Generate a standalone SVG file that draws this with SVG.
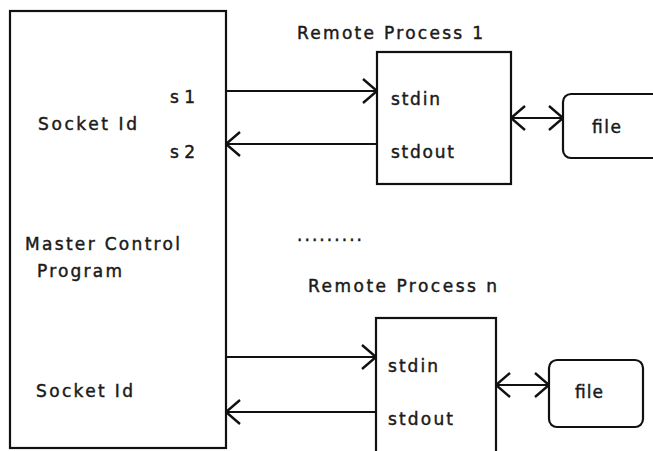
<svg xmlns="http://www.w3.org/2000/svg" width="653" height="451" viewBox="0 0 653 451">
<style>
.box{fill:#fff;stroke:#111;stroke-width:2.2}
.ln{fill:none;stroke:#111;stroke-width:2.2}
text{font-family:"DejaVu Sans","Liberation Sans",Arial,sans-serif;font-size:17px;fill:#1a1a1a;stroke:#1a1a1a;stroke-width:0.45}
</style>
<defs>
<marker id="ah" viewBox="0 0 16 26" refX="15" refY="13" markerWidth="16" markerHeight="26" markerUnits="userSpaceOnUse" orient="auto-start-reverse">
<path d="M1,1 L15,13 L1,25" fill="none" stroke="#111" stroke-width="2.4"/>
</marker>
</defs>
<rect width="653" height="451" fill="#fff"/>
<g id="master">
<rect class="box" x="10" y="11" width="216" height="437"/>
<text x="170" y="103" textLength="25" lengthAdjust="spacing">s1</text>
<text x="170" y="158" textLength="25" lengthAdjust="spacing">s2</text>
<text x="38" y="130" textLength="99" lengthAdjust="spacing">Socket Id</text>
<text x="25" y="250" textLength="155" lengthAdjust="spacing">Master Control</text>
<text x="37" y="277" textLength="85" lengthAdjust="spacing">Program</text>
<text x="36" y="397" textLength="97" lengthAdjust="spacing">Socket Id</text>
</g>
<g id="remote1">
<text x="297" y="39" textLength="186" lengthAdjust="spacing">Remote Process 1</text>
<rect class="box" x="377" y="52" width="134" height="132"/>
<text x="391" y="105" textLength="49" lengthAdjust="spacing">stdin</text>
<text x="391" y="158" textLength="63" lengthAdjust="spacing">stdout</text>
</g>
<g id="file1">
<rect class="box" x="563" y="94" width="110" height="64" rx="8"/>
<text x="592" y="133" textLength="29" lengthAdjust="spacing">file</text>
</g>
<g id="dots">
<text x="297" y="241" textLength="65" lengthAdjust="spacing">.........</text>
</g>
<g id="remoteN">
<text x="308" y="292" textLength="189" lengthAdjust="spacing">Remote Process n</text>
<rect class="box" x="376" y="318" width="120" height="140"/>
<text x="388" y="372" textLength="50" lengthAdjust="spacing">stdin</text>
<text x="388" y="425" textLength="65" lengthAdjust="spacing">stdout</text>
</g>
<g id="fileN">
<rect class="box" x="549" y="360" width="94" height="67" rx="8"/>
<text x="575" y="398" textLength="28" lengthAdjust="spacing">file</text>
</g>
<g id="connectors">
<line class="ln" x1="226" y1="91" x2="377" y2="91" marker-end="url(#ah)"/>
<line class="ln" x1="377" y1="144" x2="226" y2="144" marker-end="url(#ah)"/>
<line class="ln" x1="511" y1="118" x2="563" y2="118" marker-start="url(#ah)" marker-end="url(#ah)"/>
<line class="ln" x1="226" y1="357" x2="376" y2="357" marker-end="url(#ah)"/>
<line class="ln" x1="376" y1="412" x2="226" y2="412" marker-end="url(#ah)"/>
<line class="ln" x1="496" y1="385" x2="549" y2="385" marker-start="url(#ah)" marker-end="url(#ah)"/>
</g>
</svg>
